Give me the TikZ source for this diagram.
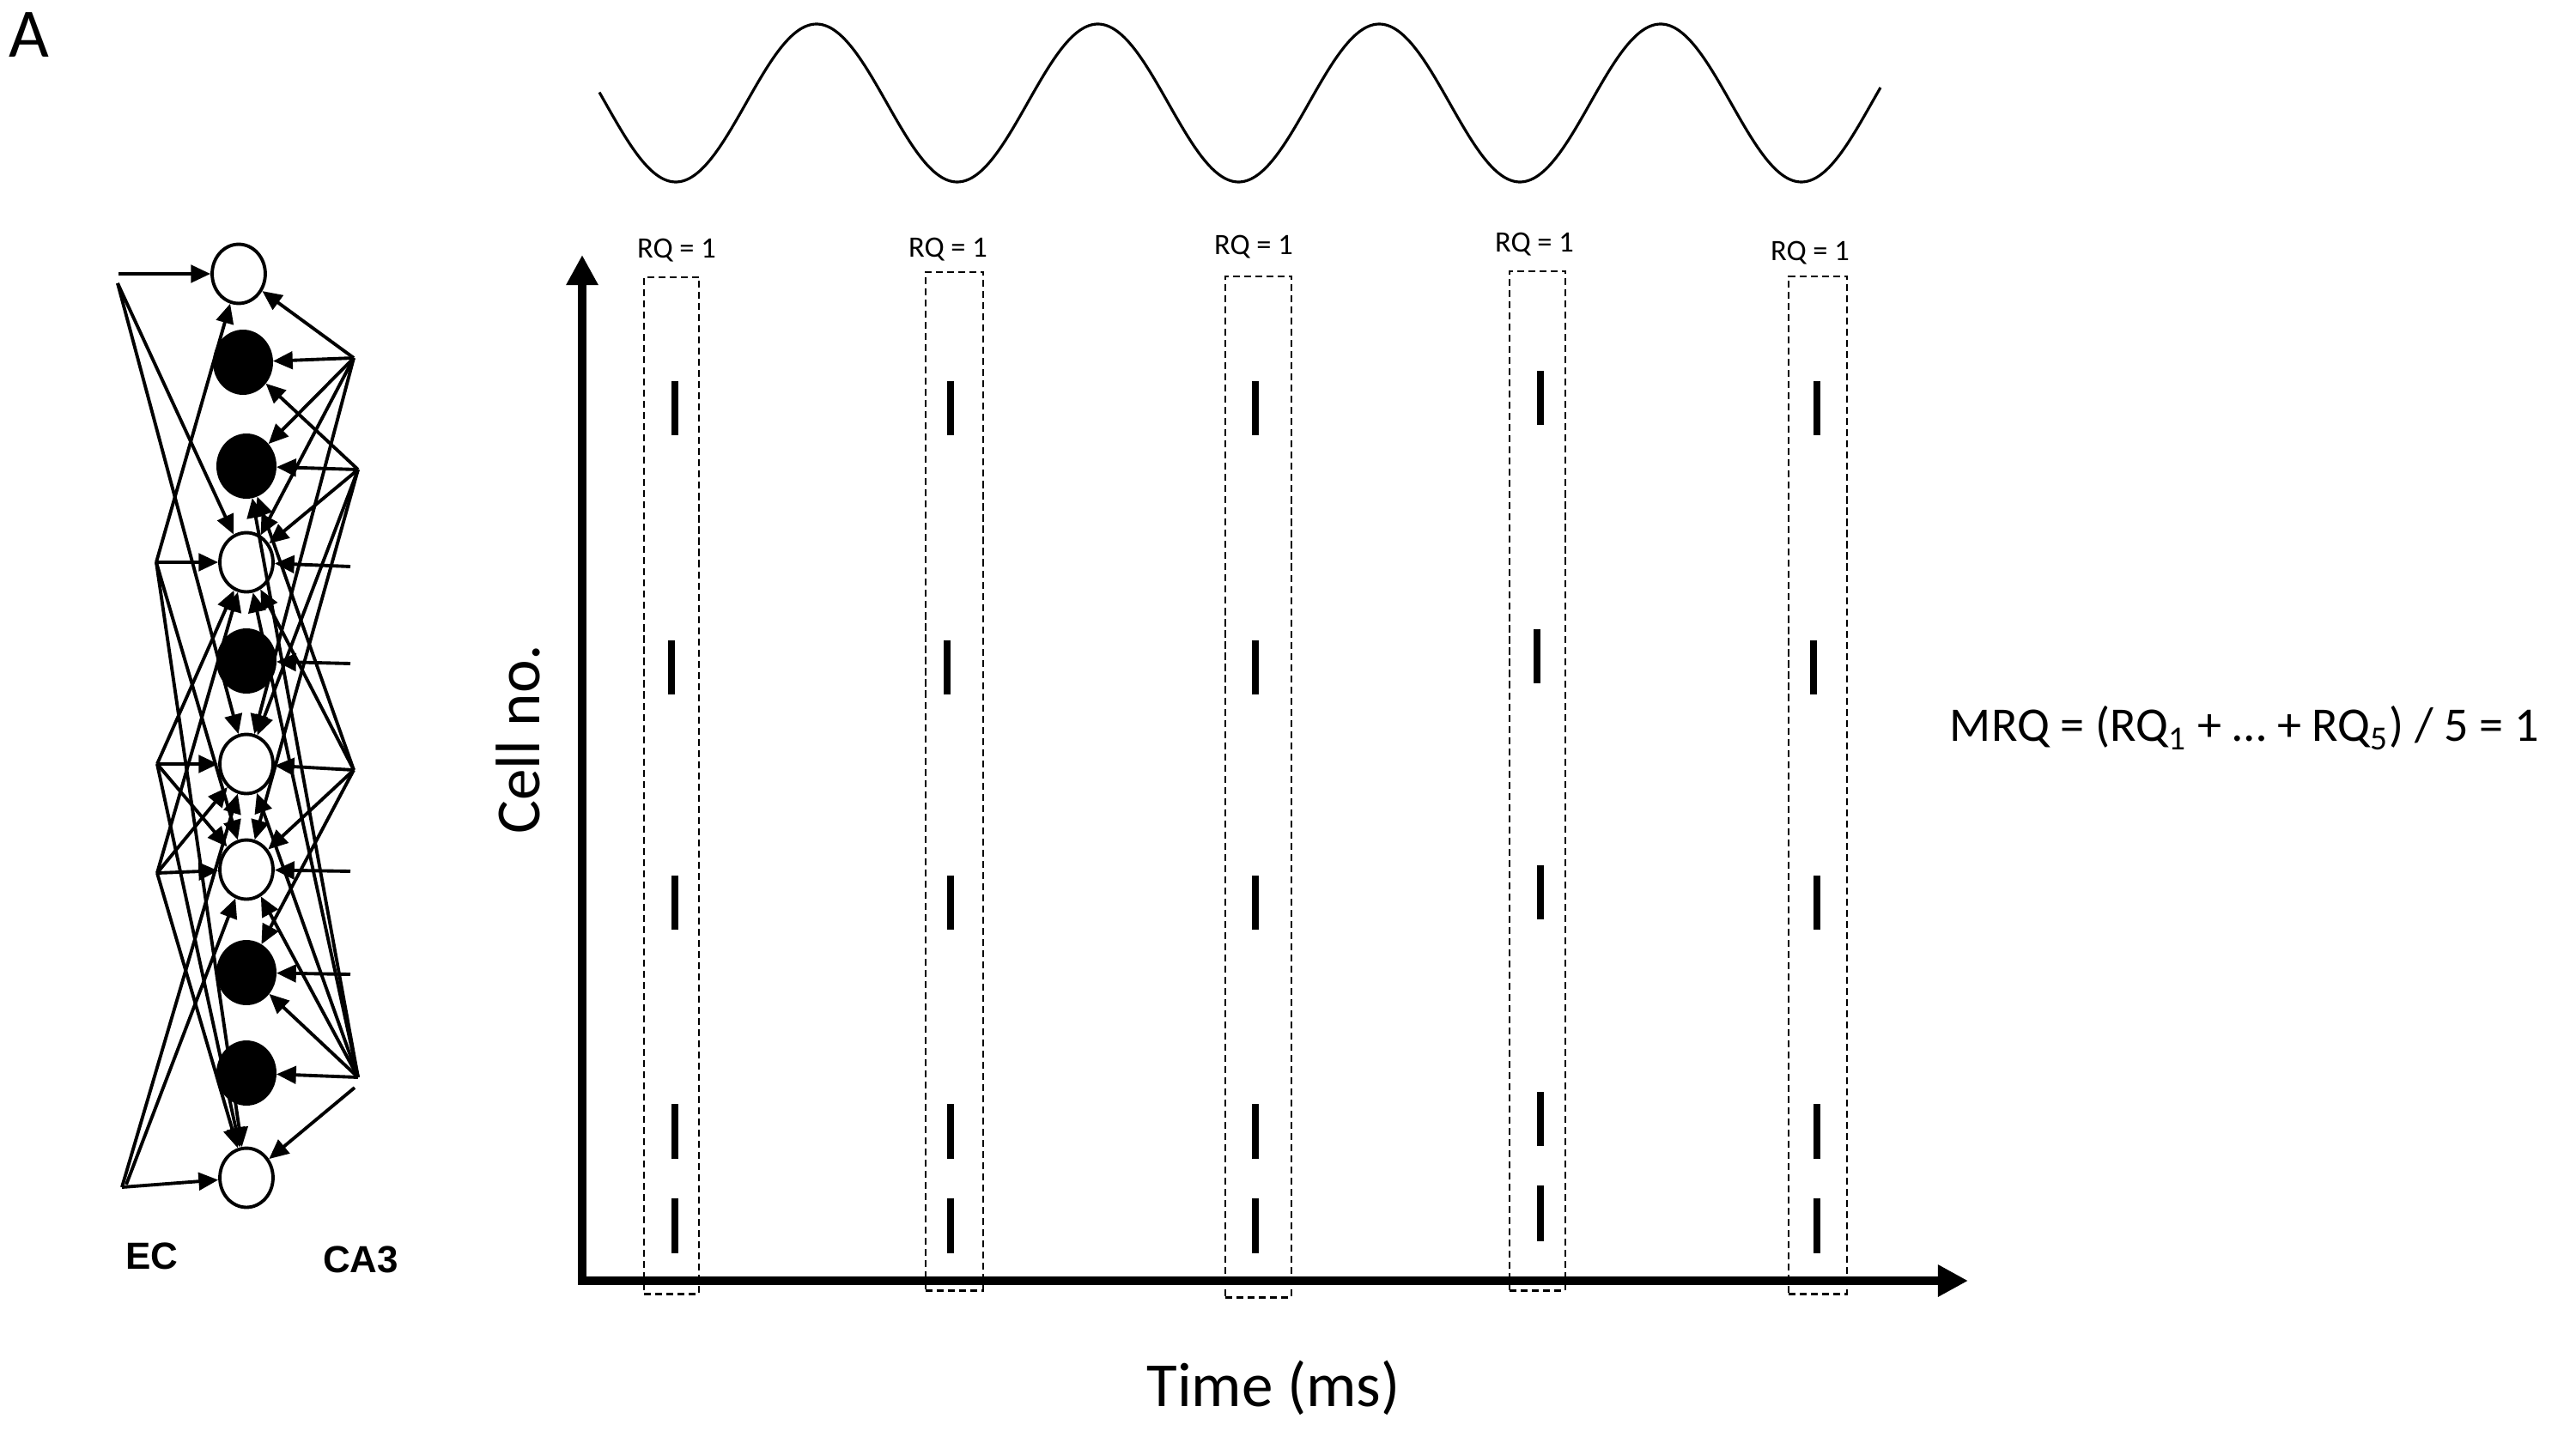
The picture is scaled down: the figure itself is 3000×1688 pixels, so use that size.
\documentclass[tikz,border=0pt]{standalone}
\usepackage{fontspec}
\setmainfont{Carlito}
\newfontfamily\arialfont{Liberation Sans}
\usetikzlibrary{arrows.meta,shapes.geometric}
\begin{document}
\begin{tikzpicture}[x=0.01cm,y=-0.01cm,
  opencell/.style={ellipse, draw, line width=1.1pt, fill=white, minimum width=17.6pt, minimum height=19.6pt, inner sep=0pt},
  filledcell/.style={ellipse, draw, line width=1.1pt, fill=black, minimum width=18.8pt, minimum height=20.5pt, inner sep=0pt},
  syn/.style={line width=1.1pt, -{Triangle[length=6.5pt,width=5.8pt]}},
  axisline/.style={line width=3.1pt, -{Triangle[length=10pt,width=10pt]}},
  rqbox/.style={draw, line width=0.65pt, dash pattern=on 2.3pt off 1.4pt, inner sep=0pt},
  spike/.style={line width=2.2pt},
  rqlabel/.style={font=\fontsize{9.8pt}{11pt}\selectfont, anchor=base, inner sep=0pt},
  bigtext/.style={font=\fontsize{20.8pt}{24pt}\selectfont, inner sep=0pt},
  netlabel/.style={font=\arialfont\bfseries\fontsize{12.5pt}{14pt}\selectfont, inner sep=0pt}
]
\useasboundingbox (0,0) rectangle (3000,1688);

% panel letter
\node[font=\fontsize{23pt}{26pt}\selectfont, anchor=base, inner sep=0pt] (letter) at (34,67) {A};

% theta wave
\draw[line width=0.9pt] plot[domain=698:2190, samples=300, smooth] (\x, {120+92*cos((\x-787)*1.098566)});

% ---------------- network ----------------
\node[opencell]   (c1)  at (278,319)  {};
\node[filledcell] (c2)  at (283,422)  {};
\node[filledcell] (c3)  at (287,543)  {};
\node[opencell]   (c4)  at (287,655)  {};
\node[filledcell] (c5)  at (287,770)  {};
\node[opencell]   (c6)  at (287,890)  {};
\node[opencell]   (c7)  at (287,1013) {};
\node[filledcell] (c8)  at (287,1133) {};
\node[filledcell] (c9)  at (287,1250) {};
\node[opencell]   (c10) at (287,1372) {};

\coordinate (ec1)  at (138,319);
\coordinate (ec1b) at (137,330);
\coordinate (ec2)  at (182,655);
\coordinate (ec3)  at (183,890);
\coordinate (ec4)  at (183,1017);
\coordinate (ec5)  at (142,1383);
\coordinate (ec5b) at (147,1380);

\coordinate (ca1)  at (412,417);
\coordinate (ca2)  at (417,547);
\coordinate (ca3)  at (408,660);
\coordinate (ca4)  at (408,773);
\coordinate (ca5)  at (412,897);
\coordinate (ca6)  at (408,1015);
\coordinate (ca7)  at (408,1135);
\coordinate (ca8)  at (417,1255);
\coordinate (ca8b) at (413,1267);

\foreach \s/\t in {ec1/c1, ec1b/c4, ec1b/c6, ec2/c1, ec2/c4, ec2/c7, ec2/c10,
                   ec3/c4, ec3/c6, ec3/c7, ec3/c10, ec4/c4, ec4/c6, ec4/c7, ec4/c10,
                   ec5/c6, ec5b/c7, ec5/c10}
  \draw[syn] (\s) -- (\t);

\foreach \s/\t in {ca1/c1, ca1/c2, ca1/c3, ca1/c4, ca1/c6,
                   ca2/c2, ca2/c3, ca2/c4, ca2/c6, ca2/c7,
                   ca3/c4, ca4/c5,
                   ca5/c3, ca5/c4, ca5/c6, ca5/c7, ca5/c8,
                   ca6/c7, ca7/c8,
                   ca8/c3, ca8/c4, ca8/c6, ca8/c7, ca8/c8, ca8/c9, ca8b/c10}
  \draw[syn] (\s) -- (\t);

\node[netlabel] (eclab)  at (177,1463) {EC};
\node[netlabel] (ca3lab) at (420,1467) {CA3};

% ---------------- raster plot ----------------
\coordinate (origin) at (673,1492);
\coordinate (ytop)   at (678,297);
\coordinate (ybot)   at (678,1497);
\coordinate (xend)   at (2292,1492);
\draw[axisline] (ybot) -- (ytop);
\draw[axisline] (origin) -- (xend);

% dashed windows
\node[rqbox, minimum width=0.64cm, minimum height=11.84cm] (b1) at (782,915)    {};
\node[rqbox, minimum width=0.67cm, minimum height=11.86cm] (b2) at (1111.5,910) {};
\node[rqbox, minimum width=0.77cm, minimum height=11.89cm] (b3) at (1465.5,916.5) {};
\node[rqbox, minimum width=0.65cm, minimum height=11.87cm] (b4) at (1790.5,909.5) {};
\node[rqbox, minimum width=0.68cm, minimum height=11.85cm] (b5) at (2117,914.5) {};

\node[rqlabel] (rq1) at (788,300)  {RQ = 1};
\node[rqlabel] (rq2) at (1104,299) {RQ = 1};
\node[rqlabel] (rq3) at (1460,297) {RQ = 1};
\node[rqlabel] (rq4) at (1787,293) {RQ = 1};
\node[rqlabel] (rq5) at (2108,303) {RQ = 1};

% spikes
\foreach \xx/\dx in {786/-4, 1107/-4, 1462/0, 2116/-4} {
  \draw[spike] (\xx,444) -- (\xx,507);
  \draw[spike] (\xx+\dx,746) -- (\xx+\dx,809);
  \draw[spike] (\xx,1020) -- (\xx,1083);
  \draw[spike] (\xx,1286) -- (\xx,1350);
  \draw[spike] (\xx,1396) -- (\xx,1460);
}
\draw[spike] (1794,432) -- (1794,495);
\draw[spike] (1790,733) -- (1790,796);
\draw[spike] (1794,1008) -- (1794,1071);
\draw[spike] (1794,1272) -- (1794,1335);
\draw[spike] (1794,1381) -- (1794,1446);

% axis labels
\node[bigtext, rotate=90] (ylab) at (603,861) {Cell no.};
\node[bigtext] (xlab) at (1483,1617) {Time (ms)};

\node[font=\fontsize{16pt}{19pt}\selectfont, inner sep=0pt] (mrq) at (2614,848)
  {MRQ = (RQ\textsubscript{1} + \ldots{} + RQ\textsubscript{5}) / 5 = 1};
\end{tikzpicture}
\end{document}
